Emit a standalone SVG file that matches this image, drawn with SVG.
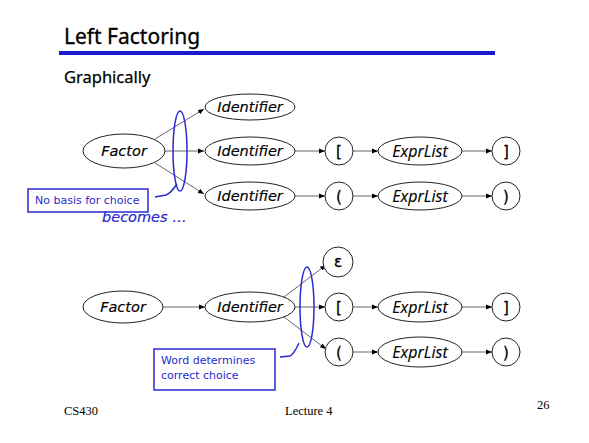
<svg xmlns="http://www.w3.org/2000/svg" width="589" height="443" viewBox="0 0 589 443">
<style>
.node{fill:#fff;stroke:#222;stroke-width:1}
.lbl{font-family:"DejaVu Sans",sans-serif;font-style:italic;font-size:14.5px;fill:#000;stroke:#000;stroke-width:0.15;text-anchor:middle}
.el{font-family:"Open Sans","DejaVu Sans",sans-serif;font-style:italic;font-size:16px;fill:#000;stroke:#000;stroke-width:0.15;text-anchor:middle}
.sym{font-family:"DejaVu Sans",sans-serif;font-size:15px;fill:#000;stroke:#000;stroke-width:0.3;text-anchor:middle}
.con line{stroke:#555;stroke-width:0.9;marker-end:url(#ah)}
.blue{fill:none;stroke:#2a2ad0;stroke-width:1.5}
.note{font-family:"DejaVu Sans",sans-serif;font-size:11px;fill:#2a2ad0}
.foot{font-family:"Liberation Serif",serif;font-size:12.5px;fill:#000}
</style>
<defs>
<marker id="ah" viewBox="0 0 10 10" refX="10" refY="5" markerWidth="6" markerHeight="6" orient="auto" markerUnits="userSpaceOnUse"><path d="M0,1 L10,5 L0,9 z" fill="#000"/></marker>
</defs>
<rect width="589" height="443" fill="#fff"/>
<text x="64" y="44" font-family="Noto Sans, DejaVu Sans, sans-serif" font-size="21" fill="#000" stroke="#000" stroke-width="0.3">Left Factoring</text>
<rect x="59" y="51" width="436" height="4" fill="#1a1acc"/>
<text x="64" y="83" font-family="Noto Sans, DejaVu Sans, sans-serif" font-size="16.5" fill="#000" stroke="#000" stroke-width="0.25">Graphically</text>

<g id="connectors" class="con">
<line x1="155" y1="139" x2="204" y2="109"/>
<line x1="165" y1="151" x2="204" y2="151"/>
<line x1="155" y1="163" x2="204" y2="194"/>
<line x1="295" y1="151" x2="325" y2="151"/>
<line x1="353" y1="151" x2="378" y2="151"/>
<line x1="462" y1="151" x2="492" y2="151"/>
<line x1="295" y1="196" x2="325" y2="196"/>
<line x1="353" y1="196" x2="378" y2="196"/>
<line x1="462" y1="196" x2="492" y2="196"/>
<line x1="163" y1="307" x2="205" y2="307"/>
<line x1="284" y1="297" x2="326" y2="265"/>
<line x1="295" y1="307" x2="325" y2="307"/>
<line x1="284" y1="317" x2="326" y2="349"/>
<line x1="353" y1="307" x2="378" y2="307"/>
<line x1="462" y1="307" x2="492" y2="307"/>
<line x1="353" y1="352" x2="378" y2="352"/>
<line x1="462" y1="352" x2="492" y2="352"/>
</g>

<g id="factor1"><ellipse class="node" cx="124" cy="151" rx="41" ry="17"/><text class="lbl" x="124" y="156">Factor</text></g>
<g id="ident1"><ellipse class="node" cx="250" cy="107" rx="45" ry="13"/><text class="lbl" x="250" y="112">Identifier</text></g>
<g id="ident2"><ellipse class="node" cx="250" cy="151" rx="45" ry="14"/><text class="lbl" x="250" y="156">Identifier</text></g>
<g id="ident3"><ellipse class="node" cx="250" cy="196" rx="45" ry="14"/><text class="lbl" x="250" y="201">Identifier</text></g>
<g id="lbrack1"><circle class="node" cx="339" cy="151" r="14"/><text class="sym" x="339" y="156.5">[</text></g>
<g id="expr1"><ellipse class="node" cx="420" cy="151" rx="42" ry="14"/><text class="el" x="420" y="156.5">ExprList</text></g>
<g id="rbrack1"><circle class="node" cx="506" cy="151" r="14"/><text class="sym" x="506" y="156.5">]</text></g>
<g id="lparen1"><circle class="node" cx="339" cy="196" r="14"/><text class="sym" x="339" y="201.5">(</text></g>
<g id="expr2"><ellipse class="node" cx="420" cy="196" rx="42" ry="14"/><text class="el" x="420" y="201.5">ExprList</text></g>
<g id="rparen1"><circle class="node" cx="506" cy="196" r="14"/><text class="sym" x="506" y="201.5">)</text></g>

<g id="choice1">
<ellipse class="blue" cx="180" cy="151" rx="7" ry="40"/>
<path class="blue" d="M155,197 L166,195 Q171,193 177,184"/>
<rect class="blue" x="28" y="189" width="120" height="23"/>
<text class="note" x="35" y="204">No basis for choice</text>
</g>
<text x="102" y="222" font-family="DejaVu Sans, sans-serif" font-style="italic" font-size="14.5" fill="#2a2ad0" stroke="#2a2ad0" stroke-width="0.2">becomes …</text>

<g id="factor2"><ellipse class="node" cx="123" cy="307" rx="40" ry="16"/><text class="lbl" x="123" y="312">Factor</text></g>
<g id="ident4"><ellipse class="node" cx="250" cy="307" rx="45" ry="15"/><text class="lbl" x="250" y="312">Identifier</text></g>
<g id="eps"><circle class="node" cx="338" cy="262" r="15"/><text class="sym" x="338" y="267">ε</text></g>
<g id="lbrack2"><circle class="node" cx="339" cy="307" r="14"/><text class="sym" x="339" y="312.5">[</text></g>
<g id="expr3"><ellipse class="node" cx="420" cy="307" rx="42" ry="15"/><text class="el" x="420" y="312.5">ExprList</text></g>
<g id="rbrack2"><circle class="node" cx="506" cy="307" r="14"/><text class="sym" x="506" y="312.5">]</text></g>
<g id="lparen2"><circle class="node" cx="339" cy="352" r="14"/><text class="sym" x="339" y="357.5">(</text></g>
<g id="expr4"><ellipse class="node" cx="420" cy="352" rx="42" ry="15"/><text class="el" x="420" y="357.5">ExprList</text></g>
<g id="rparen2"><circle class="node" cx="506" cy="352" r="14"/><text class="sym" x="506" y="357.5">)</text></g>

<g id="choice2">
<ellipse class="blue" cx="307" cy="307" rx="7" ry="40"/>
<path class="blue" d="M280,357 L290,356 Q294,354 299,343"/>
<rect class="blue" x="154" y="349" width="121" height="41"/>
<text class="note" x="161" y="364">Word determines</text>
<text class="note" x="161" y="379">correct choice</text>
</g>

<text class="foot" x="64" y="415">CS430</text>
<text class="foot" x="285" y="415">Lecture 4</text>
<text class="foot" x="537" y="409">26</text>
</svg>
